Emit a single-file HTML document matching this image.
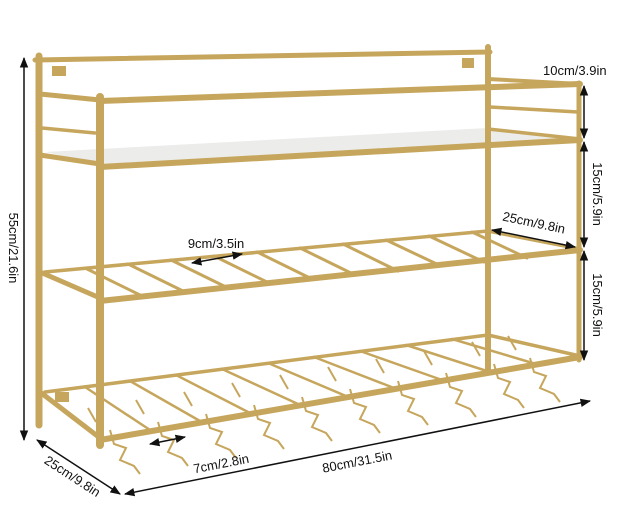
<!DOCTYPE html>
<html><head><meta charset="utf-8"><style>
html,body{margin:0;padding:0;background:#fff;}
svg{display:block;}
text{font-family:"Liberation Sans",sans-serif;font-size:13px;fill:#111;}
</style></head><body>
<svg width="634" height="505" viewBox="0 0 634 505" xmlns="http://www.w3.org/2000/svg">
<defs>
<marker id="a" viewBox="0 0 10 10" refX="9" refY="5" markerWidth="7" markerHeight="7" orient="auto-start-reverse"><path d="M0,1 L10,5 L0,9 z" fill="#111"/></marker>
<g id="h" fill="none" stroke="#c6a65c" stroke-width="2"><path d="M-22,-22 L-14,-8 M0,0 L4,14 L16,18 L10,30 L24,36 L30,44"/></g>
</defs>
<g stroke="#c6a65c" stroke-linecap="round" fill="none">
<polygon points="45,152 487,128 580,138 100,164" fill="#ececea" stroke="none"/>
<line x1="39" y1="56" x2="39" y2="425" stroke-width="7"/>
<line x1="488" y1="47" x2="488" y2="372" stroke-width="6"/>
<line x1="35" y1="60" x2="490" y2="52" stroke-width="5"/>
<rect x="52" y="66" width="14" height="10" fill="#c6a65c" stroke="none"/>
<rect x="462" y="58" width="12" height="10" fill="#c6a65c" stroke="none"/>
<rect x="55" y="392" width="14" height="10" fill="#c6a65c" stroke="none"/>
<line x1="40" y1="94" x2="100" y2="100" stroke-width="5"/>
<line x1="42" y1="128" x2="95" y2="133" stroke-width="3.5"/>
<line x1="40" y1="155" x2="100" y2="164" stroke-width="5"/>
<line x1="40" y1="272" x2="100" y2="298" stroke-width="5"/>
<line x1="40" y1="392" x2="100" y2="438" stroke-width="5"/>
<line x1="488" y1="79" x2="580" y2="84" stroke-width="4"/>
<line x1="490" y1="107" x2="578" y2="112" stroke-width="3.5"/>
<line x1="488" y1="129" x2="580" y2="139" stroke-width="3.5"/>
<line x1="488" y1="231" x2="580" y2="249" stroke-width="3.5"/>
<line x1="488" y1="335" x2="580" y2="356" stroke-width="3.5"/>
<line x1="45" y1="272" x2="488" y2="231" stroke-width="3.5"/>
<line x1="45" y1="392" x2="488" y2="335" stroke-width="3.5"/>
<g stroke-width="3">
<line x1="85" y1="268" x2="140" y2="295"/>
<line x1="128" y1="264" x2="183" y2="291"/>
<line x1="171" y1="260" x2="226" y2="287"/>
<line x1="214" y1="256" x2="269" y2="283"/>
<line x1="257" y1="252" x2="312" y2="279"/>
<line x1="300" y1="248" x2="355" y2="275"/>
<line x1="343" y1="244" x2="398" y2="271"/>
<line x1="386" y1="240" x2="441" y2="266"/>
<line x1="429" y1="236" x2="484" y2="262"/>
<line x1="472" y1="232" x2="527" y2="258"/>
</g>
<g stroke-width="2.5">
<line x1="85" y1="387" x2="150" y2="430"/>
<line x1="130" y1="381" x2="200" y2="421"/>
<line x1="176" y1="375" x2="250" y2="413"/>
<line x1="222" y1="369" x2="298" y2="404"/>
<line x1="268" y1="363" x2="346" y2="396"/>
<line x1="314" y1="357" x2="394" y2="388"/>
<line x1="360" y1="351" x2="442" y2="380"/>
<line x1="406" y1="345" x2="490" y2="372"/>
<line x1="452" y1="339" x2="536" y2="364"/>
</g>
</g>
<use href="#h" x="110" y="430"/>
<use href="#h" x="158" y="422"/>
<use href="#h" x="206" y="414"/>
<use href="#h" x="254" y="405"/>
<use href="#h" x="302" y="397"/>
<use href="#h" x="350" y="389"/>
<use href="#h" x="398" y="381"/>
<use href="#h" x="446" y="373"/>
<use href="#h" x="494" y="364"/>
<use href="#h" x="530" y="358"/>
<g stroke="#c6a65c" stroke-linecap="round" fill="none">
<line x1="100" y1="97" x2="100" y2="445" stroke-width="8"/>
<line x1="579" y1="83" x2="579" y2="360" stroke-width="5"/>
<line x1="100" y1="101" x2="580" y2="84" stroke-width="6"/>
<line x1="100" y1="167" x2="580" y2="140" stroke-width="6"/>
<line x1="100" y1="301" x2="580" y2="250" stroke-width="6"/>
<line x1="100" y1="440" x2="580" y2="357" stroke-width="6"/>
</g>
<g stroke="#111" stroke-width="1.5" fill="none">
<line x1="24" y1="58" x2="24" y2="440" marker-start="url(#a)" marker-end="url(#a)"/>
<line x1="584" y1="86" x2="584" y2="138" marker-start="url(#a)" marker-end="url(#a)"/>
<line x1="584" y1="142" x2="584" y2="247" marker-start="url(#a)" marker-end="url(#a)"/>
<line x1="584" y1="251" x2="584" y2="360" marker-start="url(#a)" marker-end="url(#a)"/>
<line x1="37" y1="440" x2="120" y2="494" marker-start="url(#a)" marker-end="url(#a)"/>
<line x1="125" y1="494" x2="590" y2="401" marker-start="url(#a)" marker-end="url(#a)"/>
<line x1="150" y1="444" x2="185" y2="437" marker-start="url(#a)" marker-end="url(#a)"/>
<line x1="192" y1="263" x2="242" y2="254" marker-start="url(#a)" marker-end="url(#a)"/>
<line x1="492" y1="230" x2="575" y2="247" marker-start="url(#a)" marker-end="url(#a)"/>
</g>
<text transform="translate(9,248) rotate(90)" text-anchor="middle">55cm/21.6in</text>
<text x="543" y="75">10cm/3.9in</text>
<text transform="translate(593,194) rotate(90)" text-anchor="middle">15cm/5.9in</text>
<text transform="translate(593,305) rotate(90)" text-anchor="middle">15cm/5.9in</text>
<text transform="translate(533,227) rotate(12)" text-anchor="middle">25cm/9.8in</text>
<text x="216" y="248" text-anchor="middle">9cm/3.5in</text>
<text transform="translate(222,468) rotate(-11)" text-anchor="middle">7cm/2.8in</text>
<text transform="translate(358,466) rotate(-11)" text-anchor="middle">80cm/31.5in</text>
<text transform="translate(70,480) rotate(33)" text-anchor="middle">25cm/9.8in</text>
</svg>
</body></html>
